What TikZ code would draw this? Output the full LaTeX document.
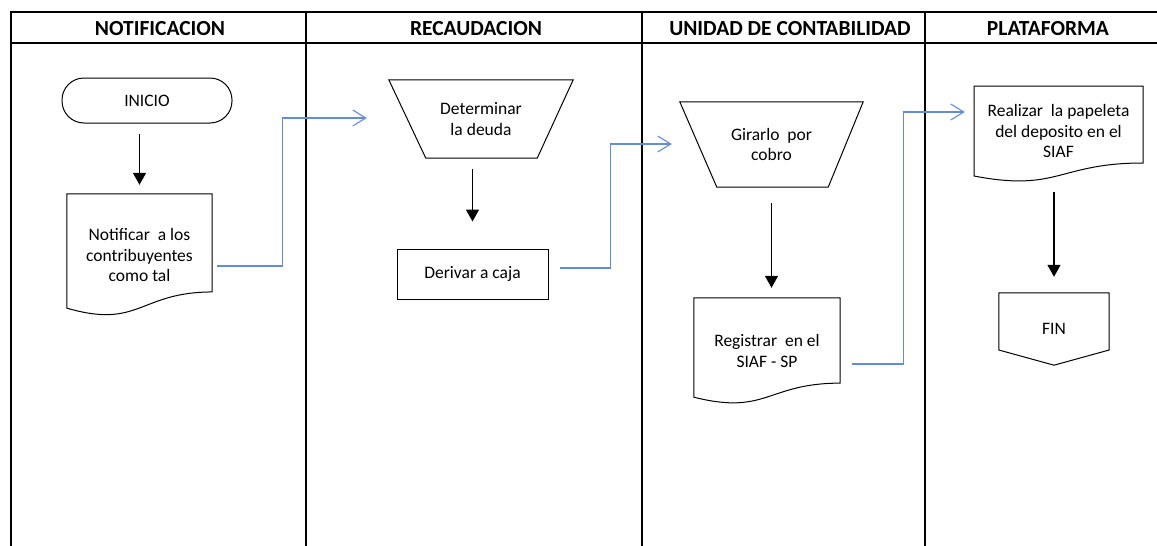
\documentclass[tikz,border=0pt]{standalone}
\usepackage{fontspec}
\setmainfont{Carlito}
\usetikzlibrary{arrows.meta,calc}
\definecolor{flowblue}{RGB}{98,140,212}
\newcommand\docpath[1]{\draw[shapeline] (#1.north west) -- (#1.north east) -- ($(#1.north east)!0.802!(#1.south east)$) .. controls ($(#1.north)!0.802!(#1.south)$) and ($(#1.north)!1.1075!(#1.south)$) .. ($(#1.north west)!0.934!(#1.south west)$) -- cycle;}
\newcommand\manop[3]{\draw[shapeline] (#1.north west) -- (#1.north east) -- ($(#1.south east)+(-#3,0)$) -- ($(#1.south west)+(#2,0)$) -- cycle;}
\begin{document}
\begin{tikzpicture}[x=1pt,y=-1pt,
  lane/.style={line width=2.3pt},
  hdr/.style={font=\fontsize{21.5}{25}\selectfont\bfseries},
  shapeline/.style={line width=1pt},
  txt/.style={font=\fontsize{17.5}{20.5}\selectfont, align=center, inner sep=0pt},
  shp/.style={txt, minimum width=#1},
  flow/.style={line width=1.4pt, -{Triangle[length=12pt,width=13pt]}},
  link/.style={flowblue, line width=1.1pt, -{Straight Barb[length=13pt,width=16pt,line width=1.1pt]}}
]
\useasboundingbox (0,0) rectangle (1157,546);
\fill[white] (0,0) rectangle (1157,546);
% swimlanes
\draw[lane] (11,12) -- (1157,12);
\draw[lane] (11,43) -- (1157,43);
\draw[lane] (11,11) -- (11,546);
\draw[lane] (306,12) -- (306,546);
\draw[lane] (642,12) -- (642,546);
\draw[lane] (925,12) -- (925,546);
\node[hdr] (h1) at (160,29) {NOTIFICACION};
\node[hdr] (h2) at (476,29) {RECAUDACION};
\node[hdr] (h3) at (790,29) {UNIDAD DE CONTABILIDAD};
\node[hdr] (h4) at (1048,29) {PLATAFORMA};
% shapes
\node[txt, draw, shapeline, minimum width=170, minimum height=45, rounded corners=22pt] (ini) at (147,100.5) {INICIO};
\node[shp=145, minimum height=122] (notif) at (139.5,255) {Notificar\ \ a los\\contribuyentes\\como tal};
\docpath{notif}
\node[shp=184, minimum height=78] (det) at (481,119) {Determinar\\la deuda};
\manop{det}{37}{36}
\node[txt, draw, shapeline, minimum width=151, minimum height=50] (der) at (472.5,274) {Derivar a caja};
\node[shp=183, minimum height=85] (gir) at (771.5,144.5) {Girarlo\ \ por\\cobro};
\manop{gir}{37}{35}
\node[shp=146, minimum height=106] (reg) at (767,351) {Registrar\ \ en el\\SIAF - SP};
\docpath{reg}
\node[shp=169, minimum height=96] (real) at (1058.5,131) {Realizar\ \ la papeleta\\del deposito en el\\SIAF};
\draw[shapeline] (974,86) -- (1143,86) -- (1143,163) .. controls (1058.5,163) and (1058.5,192.3) .. (974,176) -- cycle;
\node[shp=110, minimum height=72] (fin) at (1054,329) {FIN};
\draw[shapeline] (fin.north west) -- (fin.north east) -- ($(fin.north east)!0.79!(fin.south east)$) -- (fin.south) -- ($(fin.north west)!0.79!(fin.south west)$) -- cycle;
% black flow arrows
\draw[flow, shorten <=10pt, shorten >=9pt] (ini.south -| notif.north) -- (notif.north);
\draw[flow, shorten <=11pt, shorten >=27pt] (det.south -| der.north) -- (der.north);
\draw[flow, shorten <=16pt, shorten >=10pt] (gir.south) -- (gir.south |- reg.north);
\draw[flow, shorten <=13pt, shorten >=16pt] (real.south -| fin.north) -- (fin.north);
% blue links
\draw[link, shorten >=22pt] ($(notif.east)+(5,11)$) -- ++(65,0) |- ($(det.west)+(0,-1)$);
\draw[link, shorten >=8pt] ($(der.east)+(11,-6)$) -- ++(51,0) |- ($(gir.west)+(0,-0.5)$);
\draw[link, shorten >=9pt] ($(reg.east)+(12,13)$) -- ++(51,0) |- ($(real.west)+(0,-19)$);
\end{tikzpicture}
\end{document}
